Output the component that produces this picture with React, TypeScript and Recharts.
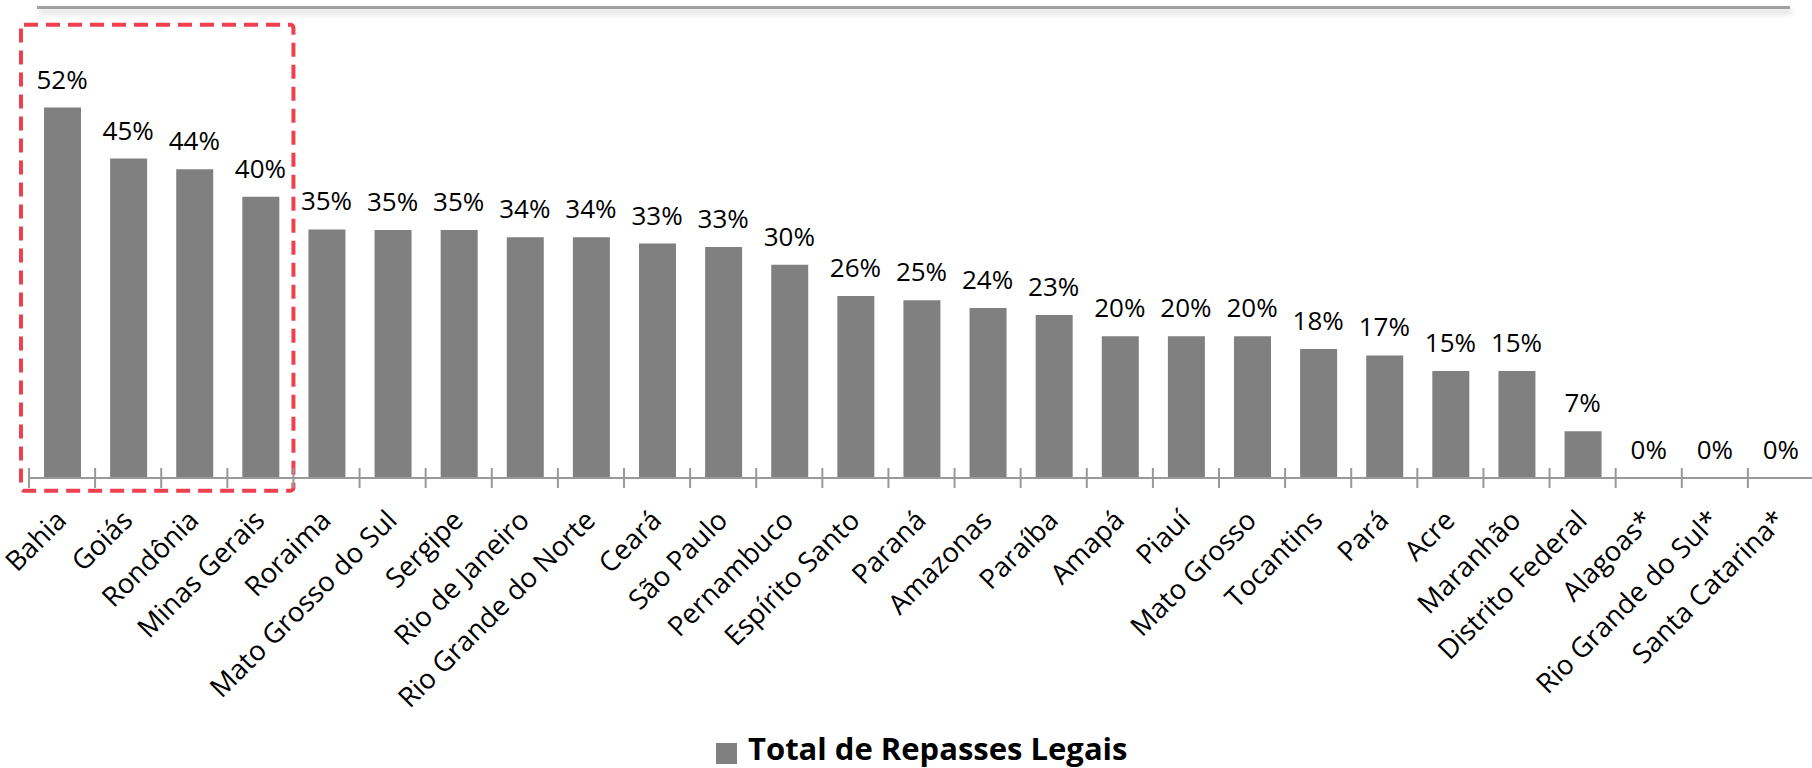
import { Bar, ComposedChart, LabelList, Legend, Line, ReferenceArea, XAxis, YAxis } from 'recharts';

const states = [
  'Bahia', 'Goiás', 'Rondônia', 'Minas Gerais', 'Roraima', 'Mato Grosso do Sul', 'Sergipe',
  'Rio de Janeiro', 'Rio Grande do Norte', 'Ceará', 'São Paulo', 'Pernambuco', 'Espírito Santo',
  'Paraná', 'Amazonas', 'Paraíba', 'Amapá', 'Piauí', 'Mato Grosso', 'Tocantins', 'Pará', 'Acre',
  'Maranhão', 'Distrito Federal', 'Alagoas*', 'Rio Grande do Sul*', 'Santa Catarina*',
];

const repasses = [
  0.523, 0.451, 0.436, 0.397, 0.351, 0.35, 0.35, 0.34, 0.34, 0.331, 0.326, 0.301, 0.257,
  0.251, 0.24, 0.23, 0.2, 0.2, 0.2, 0.182, 0.173, 0.151, 0.151, 0.066, 0, 0, 0,
];

const highlighted = ['Bahia', 'Minas Gerais'];

const data = states.map((state, i) => ({ state, value: repasses[i] }));

const FONT = '"Open Sans", sans-serif';
const AXIS_GREY = '#999999';

function StateTick({ x, y, payload }: { x?: number; y?: number; payload?: { value: string; offset: number } }) {
  if (x == null || y == null || !payload) return null;
  const edge = x - payload.offset;
  const tx = x + 6;
  const ty = y + 44;
  return (
    <g>
      <line x1={edge} x2={edge} y1={y - 10} y2={y + 10} stroke={AXIS_GREY} strokeWidth={2} />
      <text
        x={tx}
        y={ty}
        transform={`rotate(-45, ${tx}, ${ty})`}
        textAnchor="end"
        fontSize={27.5}
        fontFamily={FONT}
        fill="#000"
      >
        {payload.value}
      </text>
    </g>
  );
}

function LegendContent() {
  return (
    <div style={{ height: 40, position: 'relative', fontFamily: FONT }}>
      <span
        style={{ position: 'absolute', left: 716, top: 15, width: 21, height: 21, background: '#808080' }}
      />
      <span
        style={{
          position: 'absolute',
          left: 748,
          top: 0,
          fontSize: 31,
          lineHeight: '40px',
          fontWeight: 700,
          color: '#000',
          whiteSpace: 'nowrap',
        }}
      >
        Total de Repasses Legais
      </span>
    </div>
  );
}

function DashedBox(props: { x?: number; y?: number; width?: number; height?: number }) {
  const { x = 0, y = 0, width = 0, height = 0 } = props;
  return (
    <rect
      x={x - 8}
      y={y}
      width={width + 8}
      height={height}
      rx={3}
      fill="none"
      stroke="#ef4050"
      strokeWidth={4}
      strokeDasharray="14 8"
    />
  );
}

export default function App() {
  return (
    <div style={{ position: 'absolute', left: 0, top: 0, width: 1812, height: 768, overflow: 'hidden', background: '#fff' }}>
      <div
        style={{
          position: 'absolute',
          left: 37,
          top: 6,
          width: 1753,
          height: 3,
          background: '#a0a0a0',
          boxShadow: '2px 4px 6px rgba(0,0,0,0.22)',
        }}
      />
      <ComposedChart width={1816} height={768} data={data} margin={{ top: 53, right: 2, left: 29, bottom: 0 }}>
        <YAxis hide domain={[0, 0.6]} />
        <XAxis
          dataKey="state"
          interval={0}
          height={250}
          tickSize={0}
          tickMargin={0}
          tickLine={false}
          axisLine={{ stroke: AXIS_GREY, strokeWidth: 2 }}
          tick={<StateTick />}
        />
        <Legend verticalAlign="bottom" height={40} content={<LegendContent />} wrapperStyle={{ left: 0, width: 1812 }} />
        <Bar dataKey="value" name="Total de Repasses Legais" fill="#808080" barSize={37} isAnimationActive={false} />
        <Line
          dataKey="value"
          stroke="none"
          dot={false}
          activeDot={false}
          legendType="none"
          isAnimationActive={false}
        >
          <LabelList
            dataKey="value"
            position="top"
            offset={19}
            formatter={(v: number) => `${Math.round(v * 100)}%`}
            fontSize={26}
            fontFamily={FONT}
            fill="#000"
          />
        </Line>
        <ReferenceArea
          x1={highlighted[0]}
          x2={highlighted[1]}
          y1={0.64}
          y2={-0.018}
          ifOverflow="visible"
          shape={<DashedBox />}
        />
      </ComposedChart>
    </div>
  );
}
